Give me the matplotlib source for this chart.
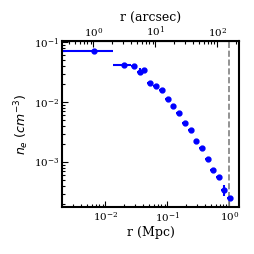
import numpy as np
import matplotlib
matplotlib.use("Agg")
import matplotlib.pyplot as plt
from matplotlib.ticker import LogLocator, NullFormatter

# electron density profile (Mpc, cm^-3)
r_mpc = [0.00664, 0.0199, 0.0292, 0.0360, 0.0426, 0.0524, 0.0655, 0.0809,
         0.101, 0.1245, 0.154, 0.195, 0.238, 0.293, 0.362, 0.446, 0.549,
         0.671, 0.821, 1.04]
r_lo = [0.0001, 0.0130, 0.0258, 0.0326, 0.0393, 0.0475, 0.0588, 0.0730,
        0.0905, 0.1125, 0.139, 0.174, 0.216, 0.265, 0.326, 0.404, 0.497,
        0.609, 0.744, 0.925]
r_hi = [0.0130, 0.0258, 0.0326, 0.0393, 0.0475, 0.0588, 0.0730, 0.0905,
        0.1125, 0.139, 0.174, 0.216, 0.265, 0.326, 0.404, 0.497, 0.609,
        0.744, 0.925, 1.16]
ne = [0.0724, 0.0423, 0.0398, 0.0324, 0.0349, 0.0212, 0.0185, 0.0160,
      0.01135, 0.00877, 0.00663, 0.00452, 0.00345, 0.00226, 0.00171,
      0.00112, 0.000753, 0.000562, 0.000345, 0.000257]
ne_err = [0.003, 0.002, 0.002, 0.004, 0.002, 0.001, 0.0009, 0.0008, 0.0006,
          0.0004, 0.0003, 0.0002, 0.00016, 0.00012, 0.0001, 0.00008,
          0.00006, 0.00006, 0.00007, 0.00002]
r500 = 1.0
mpc_per_arcsec = 0.0064
arcsec_ticks = [1, 10, 100]

plt.rcParams['font.family'] = 'DejaVu Serif'
plt.rcParams['mathtext.fontset'] = 'dejavusans'

r = np.array(r_mpc)
xerr = [r - np.array(r_lo), np.array(r_hi) - r]

fig = plt.figure(figsize=(2.54, 2.54), dpi=100)
ax = fig.add_axes([0.245, 0.184, 0.697, 0.655])

ax.errorbar(r, ne, xerr=xerr, yerr=ne_err, fmt='o', color='#0000ff',
            ms=3.5, elinewidth=1.5, capsize=0)
ax.axvline(r500, color='gray', ls='--', lw=1.2)

ax.set_xscale('log')
ax.set_yscale('log')
ax.set_xlim(0.0020, 1.45)
ax.set_ylim(1.77e-4, 0.105)
ax.set_xlabel('r (Mpc)', fontsize=9, labelpad=1)
ax.set_ylabel(r'$n_e\ (cm^{-3})$', fontsize=9, labelpad=2)

for s in ax.spines.values():
    s.set_linewidth(1.5)
ax.tick_params(which='both', direction='in', top=False, right=False,
               labelsize=7.5, width=0.8, pad=2)
ax.tick_params(which='major', length=4)
ax.tick_params(which='minor', length=2.5)

sec = ax.secondary_xaxis('top', functions=(lambda x: x / mpc_per_arcsec,
                                           lambda x: x * mpc_per_arcsec))
sec.set_xticks(arcsec_ticks)
sec.xaxis.set_minor_locator(LogLocator(base=10, subs=np.arange(2, 10)))
sec.xaxis.set_minor_formatter(NullFormatter())
sec.set_xlabel('r (arcsec)', fontsize=9, labelpad=1.5)
sec.tick_params(which='both', direction='in', labelsize=7.5, width=0.8, pad=1.5)
sec.tick_params(which='major', length=4)
sec.tick_params(which='minor', length=2.5)

fig.savefig('out.png', dpi=100)
